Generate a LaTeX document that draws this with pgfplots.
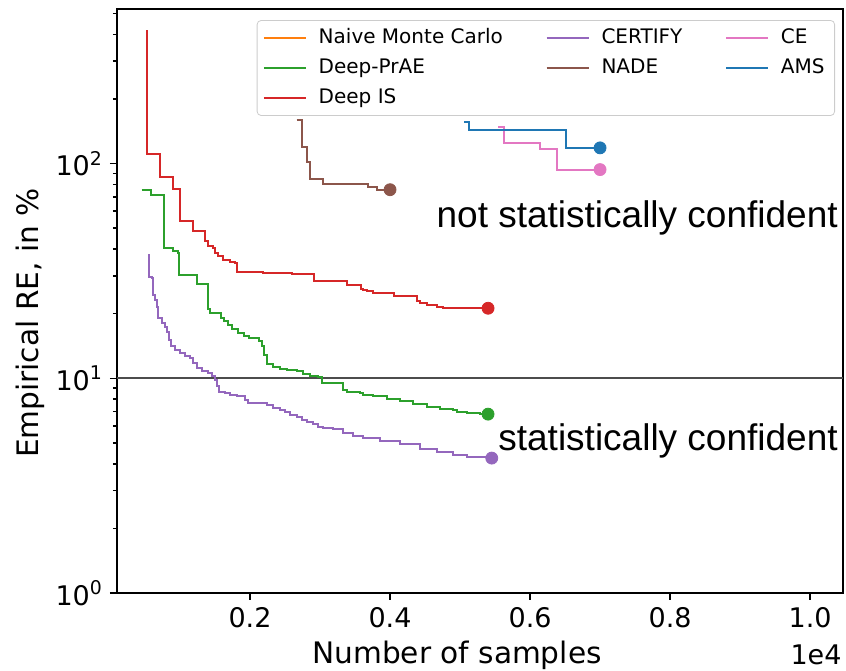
\documentclass[border=0pt]{standalone}
\usepackage{fontspec}
\setmainfont{DejaVu Sans}
\newfontfamily\arialfont{Liberation Sans}
\usepackage{pgfplots}
\pgfplotsset{compat=1.18}

\definecolor{tabblue}{HTML}{1F77B4}
\definecolor{taborange}{HTML}{FF7F0E}
\definecolor{tabgreen}{HTML}{2CA02C}
\definecolor{tabred}{HTML}{D62728}
\definecolor{tabpurple}{HTML}{9467BD}
\definecolor{tabbrown}{HTML}{8C564B}
\definecolor{tabpink}{HTML}{E377C2}

\begin{document}
\begin{tikzpicture}
\begin{axis}[
  name=ax,
  scale only axis,
  width=363pt, height=292pt,
  ymode=log,
  xmin=100, xmax=10470,
  ymin=1, ymax=525,
  xtick={2000,4000,6000,8000,10000},
  xticklabels={0.2,0.4,0.6,0.8,1.0},
  scaled x ticks=false,
  ytick={1,10,100},
  yticklabels={10\textsuperscript{0},10\textsuperscript{1},10\textsuperscript{2}},
  minor ytick={2,3,4,5,6,7,8,9,20,30,40,50,60,70,80,90,200,300,400,500},
  tick align=outside,
  tick pos=left,
  major tick length=3.5pt,
  minor tick length=2pt,
  tick style={black, line width=0.8pt},
  axis line style={line width=0.8pt},
  tick label style={font=\fontsize{13.5}{16}\selectfont},
  xlabel={Number of samples},
  ylabel={Empirical RE, in \%},
  every axis x label/.style={at={(axis description cs:0.5,0)}, xshift=-11.5pt, yshift=-31pt, anchor=center, font=\fontsize{14.8}{18}\selectfont},
  every axis y label/.style={at={(axis description cs:0,0.462)}, xshift=-43.5pt, rotate=90, anchor=center, font=\fontsize{14.8}{18}\selectfont},
  legend columns=3,
  legend cell align=left,
  legend image code/.code={\draw[#1, line width=0.8pt] (0pt,0pt) -- (21pt,0pt);},
  legend style={
    at={(0.989,0.981)}, anchor=north east,
    draw=black!20, rounded corners=2pt, fill=white, fill opacity=0.8, text opacity=1,
    font=\fontsize{10}{12}\selectfont,
    inner xsep=3pt, inner ysep=2.5pt,
    row sep=2.5pt,
    nodes={text height=7.5pt, text depth=2pt, inner ysep=1.5pt},
    /tikz/every odd column/.append style={column sep=4pt},
    /tikz/every even column/.append style={column sep=19.5pt},
  },
]
% legend (row-wise order reproducing matplotlib column-wise layout)
\addlegendimage{taborange}\addlegendentry{Naive Monte Carlo}
\addlegendimage{tabpurple}\addlegendentry{CERTIFY}
\addlegendimage{tabpink}\addlegendentry{CE}
\addlegendimage{tabgreen}\addlegendentry{Deep-PrAE}
\addlegendimage{tabbrown}\addlegendentry{NADE}
\addlegendimage{tabblue}\addlegendentry{AMS}
\addlegendimage{tabred}\addlegendentry{Deep IS}

% threshold line
\addplot[forget plot, color=black!70, line width=1pt] coordinates {(100,10) (10470,10)};

% Deep-PrAE
\addplot[forget plot, const plot, color=tabgreen, line width=1pt] coordinates {
(453,75.1) (586,71.7) (771,40.6) (900,39.0) (971,38.3) (990,30.2) (1243,27.6) (1396,21.1)
(1429,20.1) (1586,19.1) (1629,18.5) (1686,17.8) (1743,17.0) (1829,16.3) (1914,15.8) (1986,15.4)
(2129,15.0) (2167,14.2) (2200,12.9) (2236,11.7) (2329,11.3) (2429,11.1) (2529,10.9) (2667,10.8)
(2761,10.5) (2857,10.3) (2976,10.1) (3024,9.56) (3286,9.48) (3329,8.84) (3386,8.68) (3571,8.53)
(3614,8.38) (3757,8.23) (3957,8.00) (4143,7.80) (4329,7.60) (4529,7.39) (4714,7.23) (4900,7.13)
(4957,6.98) (5100,6.93) (5286,6.83) (5400,6.81)};
\addplot[forget plot, only marks, mark=*, mark size=3pt, color=tabgreen] coordinates {(5400,6.81)};

% Deep IS
\addplot[forget plot, const plot, color=tabred, line width=1pt] coordinates {
(529,418) (529,111.4) (714,87.0) (900,76.5) (1000,53.8) (1186,48.3) (1357,43.4) (1400,41.2)
(1471,40.5) (1500,38.3) (1543,37.0) (1614,35.7) (1714,35.0) (1786,34.4) (1814,31.3) (2186,30.9)
(2600,30.6) (2914,28.5) (3386,27.1) (3586,26.1) (3614,25.9) (3671,25.4) (3757,24.9) (4057,24.1)
(4386,22.8) (4429,22.4) (4529,22.0) (4671,21.6) (4757,21.2) (5400,21.2)};
\addplot[forget plot, only marks, mark=*, mark size=3pt, color=tabred] coordinates {(5400,21.2)};

% CERTIFY
\addplot[forget plot, const plot, color=tabpurple, line width=1pt] coordinates {
(547,37.6) (560,29.8) (596,29.3) (610,24.5) (643,23.2) (667,21.6) (690,19.1) (739,18.1)
(786,17.4) (810,16.5) (847,15.1) (867,14.1) (929,13.6) (1000,13.1) (1071,12.7) (1143,12.4)
(1190,11.8) (1239,11.2) (1310,10.8) (1404,10.6) (1453,10.2) (1500,9.84) (1533,9.16) (1561,8.68)
(1643,8.53) (1714,8.38) (1810,8.23) (1929,7.94) (1976,7.71) (2096,7.66) (2239,7.52) (2333,7.31)
(2429,7.13) (2500,7.00) (2571,6.76) (2667,6.64) (2739,6.40) (2810,6.25) (2904,6.14) (2976,5.96)
(3047,5.86) (3190,5.80) (3333,5.55) (3476,5.40) (3619,5.26) (3857,5.13) (4143,4.93) (4429,4.69)
(4667,4.56) (4904,4.40) (5096,4.32) (5453,4.25)};
\addplot[forget plot, only marks, mark=*, mark size=3pt, color=tabpurple] coordinates {(5453,4.25)};

% NADE
\addplot[forget plot, const plot, color=tabbrown, line width=1pt] coordinates {
(2667,160.4) (2739,119.7) (2810,101.4) (2857,84.9) (3047,80.7) (3690,77.9) (3810,75.6) (4000,75.6)};
\addplot[forget plot, only marks, mark=*, mark size=3pt, color=tabbrown] coordinates {(4000,75.6)};

% CE
\addplot[forget plot, const plot, color=tabpink, line width=1pt] coordinates {
(5547,148.3) (5633,124.9) (6143,117.1) (6390,93.8) (7000,93.8)};
\addplot[forget plot, only marks, mark=*, mark size=3pt, color=tabpink] coordinates {(7000,93.8)};

% AMS
\addplot[forget plot, const plot, color=tabblue, line width=1pt] coordinates {
(5057,155.8) (5133,143.0) (6514,118.4) (7000,118.4)};
\addplot[forget plot, only marks, mark=*, mark size=3pt, color=tabblue] coordinates {(7000,118.4)};

\node[anchor=base east, inner sep=0pt, font=\arialfont\fontsize{18.5}{22}\selectfont] at (axis cs:10400,50.3) {not statistically confident};
\node[anchor=base east, inner sep=0pt, font=\arialfont\fontsize{18.5}{22}\selectfont] at (axis cs:10400,4.59) {statistically confident};
\end{axis}
\node[anchor=center, font=\fontsize{13.5}{16}\selectfont] at ([xshift=-13.5pt,yshift=-31pt]ax.south east) {1e4};
\pgfresetboundingbox
\path[use as bounding box] ([xshift=-58.5pt,yshift=-38.5pt]ax.south west) rectangle ([xshift=1.5pt,yshift=4.5pt]ax.north east);
\end{tikzpicture}
\end{document}
